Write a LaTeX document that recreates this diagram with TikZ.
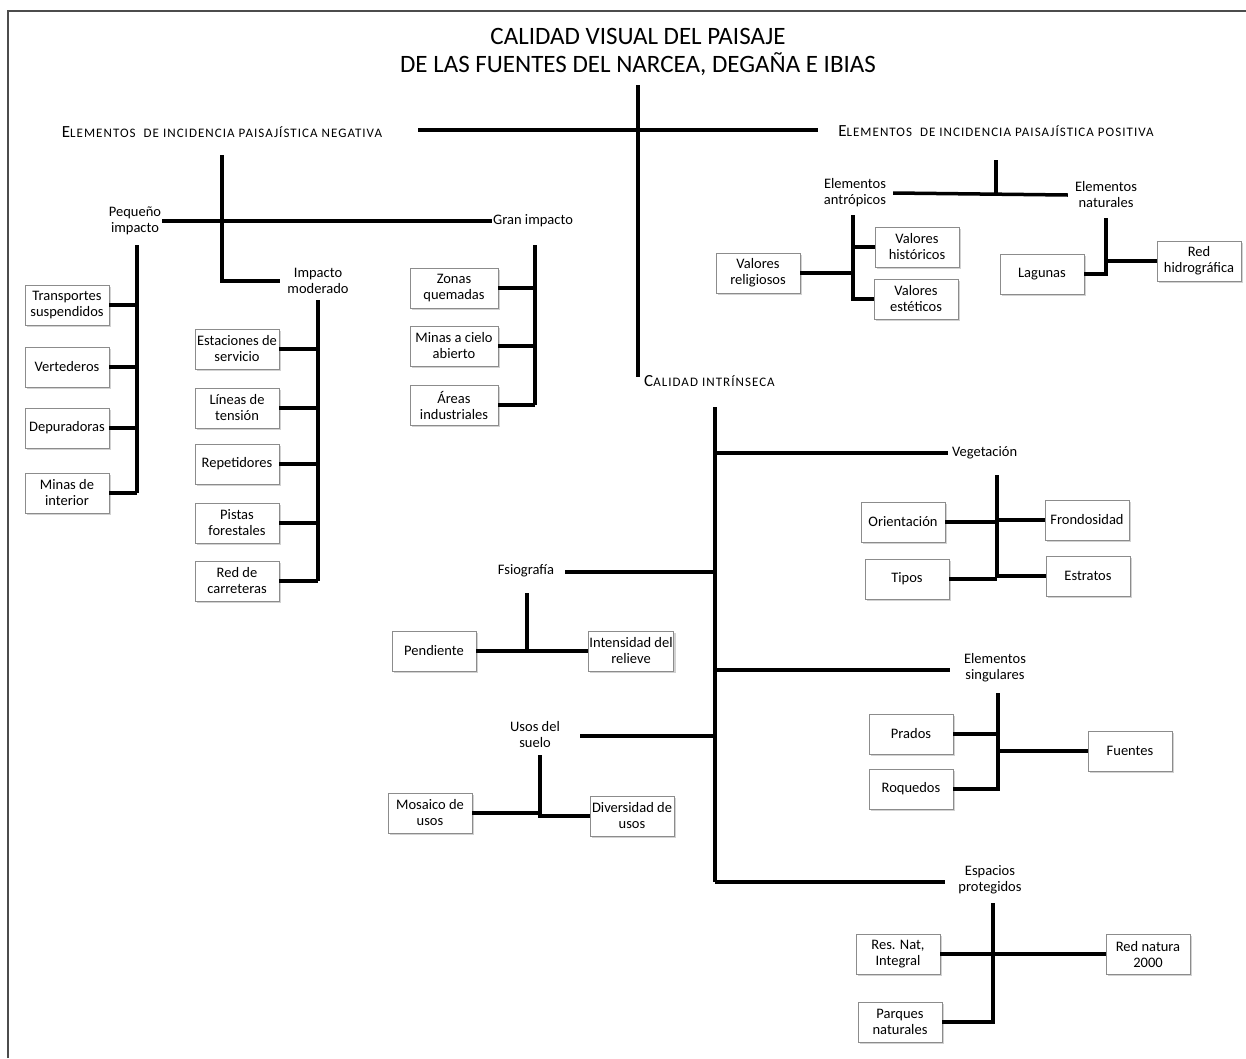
\documentclass[tikz,border=0pt]{standalone}
\usepackage{fontspec}
\setmainfont{Carlito}
\usetikzlibrary{positioning,shadows}

\newcommand{\smc}[1]{{\fontsize{13}{15}\selectfont\addfontfeatures{LetterSpace=8}#1}}

\tikzset{
  box/.style={draw=black!45, fill=white, align=center, minimum width=84pt,
    minimum height=40pt, inner sep=1pt, font=\fontsize{14.5}{16}\selectfont,
    drop shadow={shadow xshift=2pt, shadow yshift=-2pt, fill=black!35}},
  lbl/.style={align=center, inner sep=1pt, font=\fontsize{14.5}{16}\selectfont},
  hdg/.style={inner sep=1pt, font=\fontsize{17}{19}\selectfont},
  link/.style={line width=3.5pt},
}

\begin{document}
\begin{tikzpicture}[x=1pt, y=-1pt]
\useasboundingbox (0,0) rectangle (1246,1058);
\draw[black!70, line width=1.5pt] (8,1058) -- (8,11) -- (1246,11);

% title and main axis
\node[font=\fontsize{25}{28}\selectfont, align=center] (title) at (638,52)
  {CALIDAD VISUAL DEL PAISAJE\\DE LAS FUENTES DEL NARCEA, DEGAÑA E IBIAS};
\node[hdg] (neg) at (222,132) {E\smc{LEMENTOS\ \ DE INCIDENCIA PAISAJÍSTICA NEGATIVA}};
\node[hdg] (pos) at (996,131) {E\smc{LEMENTOS\ \ DE INCIDENCIA PAISAJÍSTICA POSITIVA}};
\node[hdg, anchor=west] (ci) at (643,381) {C\smc{ALIDAD INTRÍNSECA}};
\coordinate (top) at (638,85);
\coordinate (bot) at (638,377);
\coordinate (negend) at (418,130);
\coordinate (posend) at (818,130);
\draw[link] (top) -- (bot);
\draw[link] (negend) -- (posend);

% negative elements
\node[lbl] (peq) at (135,221) {Pequeño\\impacto};
\node[lbl, anchor=west] (gran) at (492,221) {Gran impacto};
\node[lbl] (mod) at (318,281) {Impacto\\moderado};
\coordinate (ng) at (222,155);
\draw[link] (peq.east) -- (gran.west);
\draw[link] (ng) |- ([xshift=-6pt]mod.west);

\coordinate (pqx) at (137,245);
\foreach \nm/\y/\txt in {tr/305/{Transportes\\suspendidos}, ve/367/{Vertederos},
    de/428/{Depuradoras}, mi/493/{Minas de\\interior}} {
  \node[box] (\nm) at (67,\y) {\txt};
  \draw[link] (\nm.east) -- (\nm.east -| pqx);
}
\draw[link] (pqx) -- (pqx |- mi.east);

\coordinate (mdx) at (318,300);
\foreach \nm/\y/\txt in {es/349/{Estaciones de\\servicio}, lt/408/{Líneas de\\tensión},
    rp/464/{Repetidores}, pf/523/{Pistas\\forestales}, rc/581/{Red de\\carreteras}} {
  \node[box] (\nm) at (237,\y) {\txt};
  \draw[link] (\nm.east) -- (\nm.east -| mdx);
}
\draw[link] (mdx) -- (mdx |- rc.east);

\coordinate (grx) at (535,245);
\foreach \nm/\y/\txt in {zq/288/{Zonas\\quemadas}, mc/346/{Minas a cielo\\abierto},
    ai/405/{Áreas\\industriales}} {
  \node[box, minimum width=88pt] (\nm) at (454,\y) {\txt};
  \draw[link] (\nm.east) -- (\nm.east -| grx);
}
\draw[link] (grx) -- (grx |- ai.east);

% positive elements
\node[lbl] (antr) at (855,193) {Elementos\\antrópicos};
\node[lbl] (nat) at (1106,195) {Elementos\\naturales};
\coordinate (ps) at (996,160);
\coordinate (psj) at (996,193);
\draw[link] ([xshift=6pt]antr.east) -- ([xshift=-6pt]nat.west);
\draw[link] (ps) -- (psj);

\coordinate (anx) at (853,215);
\node[box] (vh) at (917,247) {Valores\\históricos};
\node[box] (vs) at (916,299) {Valores\\estéticos};
\node[box] (vr) at (758,273) {Valores\\religiosos};
\draw[link] (anx) |- (vs.west);
\draw[link] (vh.west) -- (vh.west -| anx);
\draw[link] (vr.east) -- (vr.east -| anx);

\coordinate (ntx) at (1106,218);
\node[box] (lag) at (1042,274) {Lagunas};
\node[box] (rh) at (1199,261) {Red\\hidrográfica};
\draw[link] (ntx) |- (lag.east);
\draw[link] (rh.west -| ntx) -- (rh.west);

% intrinsic quality
\coordinate (cix) at (715,407);
\coordinate (cib) at (715,882);
\draw[link] (cix) -- (cib);
\node[lbl, anchor=west] (veg) at (951,453) {Vegetación};
\node[lbl] (sing) at (995,668) {Elementos\\singulares};
\node[lbl] (esp) at (990,880) {Espacios\\protegidos};
\node[lbl] (fis) at (526,571) {Fsiografía};
\node[lbl] (uso) at (535,735) {Usos del\\suelo};
\draw[link] (cix |- veg.west) -- ([xshift=-3pt]veg.west);
\draw[link] (cix |- 0,670) -- (950,670);
\draw[link] (cib) -- (945,882);
\draw[link] (565,572) -- (cix |- 0,572);
\draw[link] (580,736) -- (cix |- 0,736);

% vegetation
\coordinate (vgx) at (997,475);
\node[box] (or) at (903,522) {Orientación};
\node[box] (tp) at (907,579) {Tipos};
\node[box] (fr) at (1087,520) {Frondosidad};
\node[box] (et) at (1088,576) {Estratos};
\draw[link] (vgx) -- (997,578);
\foreach \nm in {or,tp} \draw[link] (\nm.east) -- (\nm.east -| vgx);
\foreach \nm in {fr,et} \draw[link] (\nm.west -| vgx) -- (\nm.west);

% physiography
\coordinate (fsx) at (527,593);
\node[box] (pe) at (434,651) {Pendiente};
\node[box] (ir) at (631,651) {Intensidad del\\relieve};
\draw[link] (pe.east) -- (ir.west);
\draw[link] (fsx) -- (fsx |- pe.east);

% land use
\coordinate (usx) at (540,755);
\node[box] (mo) at (430,813) {Mosaico de\\usos};
\node[box] (di) at (632,816) {Diversidad de\\usos};
\draw[link] (mo.east) -- (mo.east -| usx) |- (di.west);
\draw[link] (usx) -- (usx |- mo.east);

% singular elements
\coordinate (sgx) at (998,693);
\node[box] (pr) at (911,734) {Prados};
\node[box] (rq) at (911,789) {Roquedos};
\node[box] (fu) at (1130,751) {Fuentes};
\draw[link] (sgx) |- (rq.east);
\draw[link] (pr.east) -- (pr.east -| sgx);
\draw[link] (fu.west -| sgx) -- (fu.west);

% protected areas
\coordinate (epx) at (993,903);
\node[box] (rn) at (898,954) {Res. Nat,\\Integral};
\node[box] (pn) at (900,1022) {Parques\\naturales};
\node[box] (na) at (1148,954) {Red natura\\2000};
\draw[link] (epx) |- (pn.east);
\draw[link] (rn.east) -- (na.west);
\end{tikzpicture}
\end{document}
